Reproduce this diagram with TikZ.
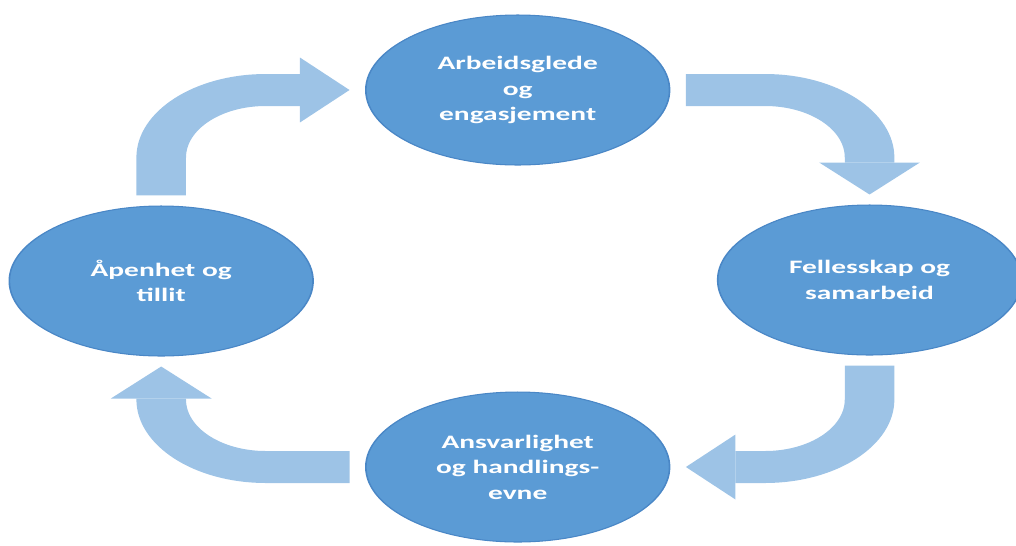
\documentclass[tikz,border=0pt]{standalone}
\usepackage{fontspec}
\setmainfont{Carlito}
\usetikzlibrary{shapes.geometric,arrows.meta}
\definecolor{bobleblaa}{HTML}{5B9BD5}
\definecolor{kantblaa}{HTML}{4A87C6}
\definecolor{pilblaa}{HTML}{9DC3E6}
\begin{document}
\begin{tikzpicture}[x=0.02cm,y=-0.02cm,
  boble/.style={ellipse,fill=bobleblaa,draw=kantblaa,line width=0.6pt,inner sep=0pt,minimum width=3.92cm,minimum height=3cm,text=white,align=center,font=\fontsize{10.8}{14.5}\selectfont\bfseries},
  pil/.style={draw=pilblaa,line width=0.64cm,rounded corners=1.35cm,shorten <=0.2cm,shorten >=0.2cm,-{Triangle[width=1.3cm,length=0.64cm,line width=0pt]}}]
\useasboundingbox (0,0) rectangle (1016,545);
\begin{scope}[transform canvas={xscale=1.55}]
\node[boble] (glede) at (334,90) {Arbeidsglede\\og\\engasjement};
\node[boble] (felles) at (561,280) {Fellesskap og\\samarbeid};
\node[boble] (ansvar) at (334,467) {Ansvarlighet\\og handlings-\\evne};
\node[boble] (tillit) at (104,281) {Åpenhet og\\tillit};
\draw[pil] (tillit.north) |- (glede.west);
\draw[pil] (glede.east) -| (felles.north);
\draw[pil] (felles.south) |- (ansvar.east);
\draw[pil] (ansvar.west) -| (tillit.south);
\end{scope}
\end{tikzpicture}
\end{document}
